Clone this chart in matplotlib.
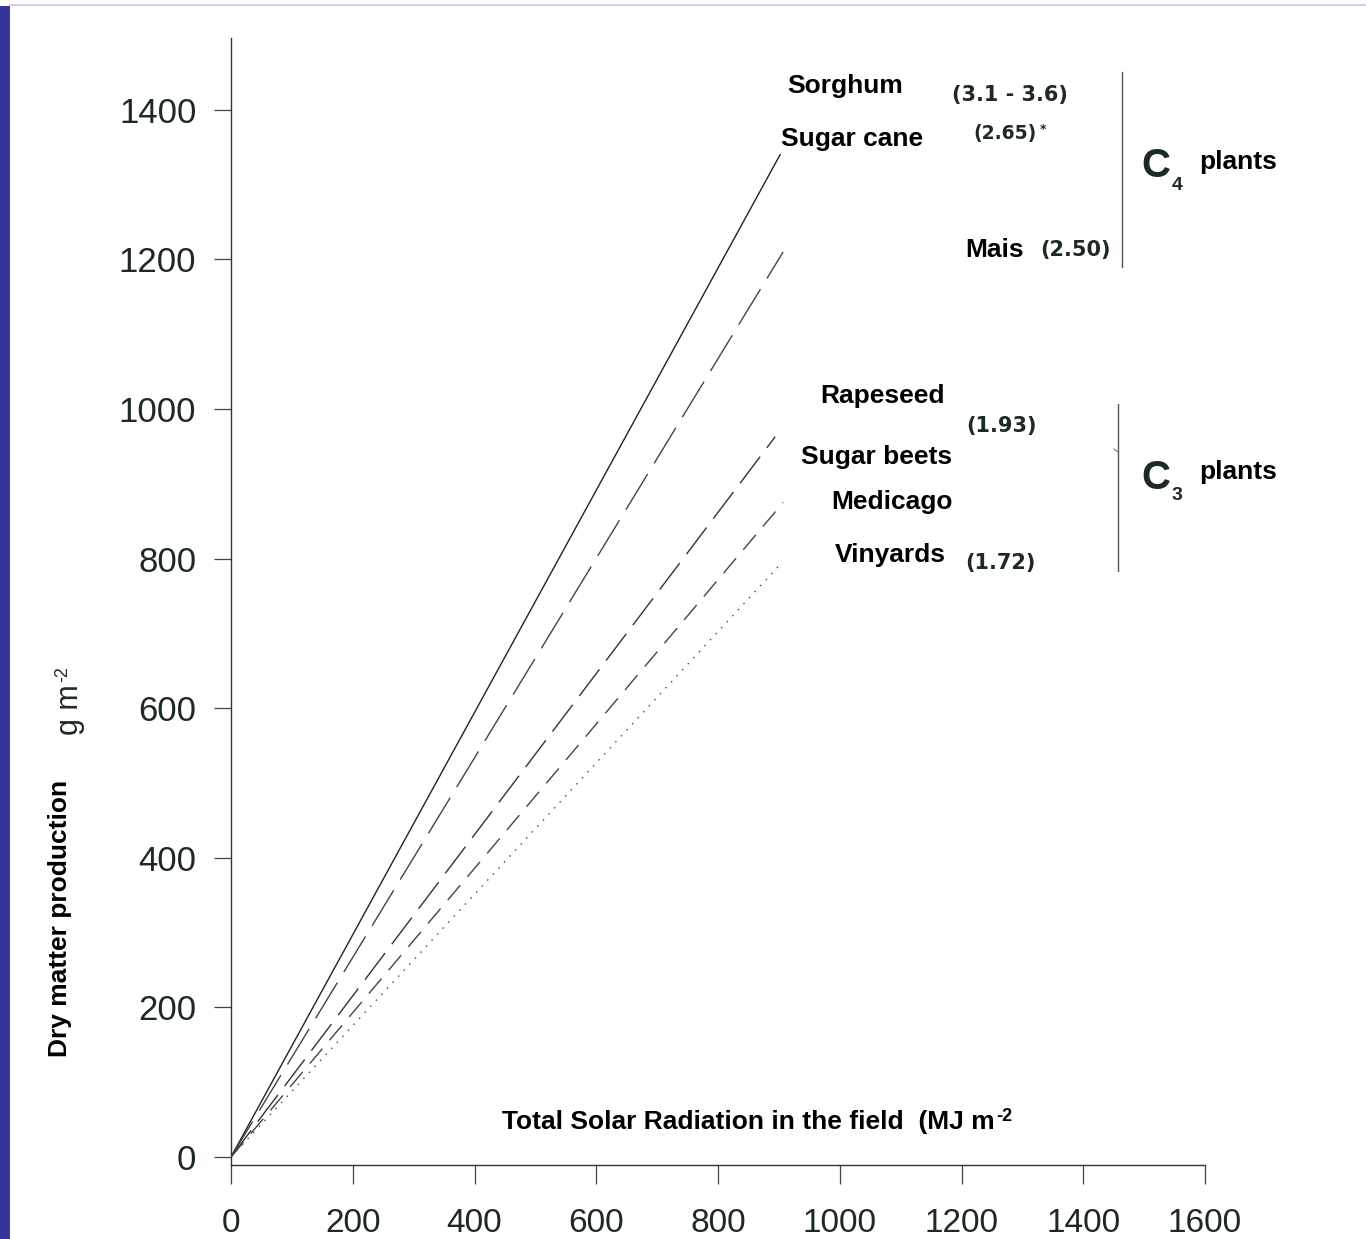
import matplotlib
matplotlib.use('Agg')
import matplotlib.pyplot as plt
from matplotlib.lines import Line2D
from matplotlib.patches import Rectangle

W, H = 1366, 1239

plt.rcParams['font.family'] = ['Liberation Sans', 'DejaVu Sans']
plt.rcParams['lines.scale_dashes'] = False

# line data: every crop line starts at the origin
crops = ['Sorghum', 'Sugar cane', 'Rapeseed', 'Sugar beets', 'Vinyards']
radiation_start = [0, 0, 0, 0, 0]
dry_matter_start = [0, 0, 0, 0, 0]
radiation_end = [902, 907, 894, 907, 902]
dry_matter_end = [1340, 1210, 963, 875, 792]

x_ticks = [0, 200, 400, 600, 800, 1000, 1200, 1400, 1600]
y_ticks = [0, 200, 400, 600, 800, 1000, 1200, 1400]

styles = ['-', (0, (30, 9)), (0, (24, 8)), (0, (14, 8)), (0, (1.1, 4.8))]
colors = ['#222222', '#444444', '#333333', '#444444', '#555555']


def fx(px):
    return px / W


def fy(py):
    return 1 - py / H


fig = plt.figure(figsize=(W / 100, H / 100), dpi=100)

# scanned-slide decorations
fig.add_artist(Rectangle((0, 0), fx(10), fy(6), transform=fig.transFigure,
                         color='#36359a', lw=0))
fig.add_artist(Line2D([fx(10), 1], [fy(5), fy(5)], transform=fig.transFigure,
                      color='#c8c4ea', lw=1.2))

ax = fig.add_axes([fx(231), fy(1165), 974 / W, (1165 - 38) / H])
ax.set_xlim(0, 1600)
ax.set_ylim(-10.7, 1496)
ax.spines['top'].set_visible(False)
ax.spines['right'].set_visible(False)
for s in ['left', 'bottom']:
    ax.spines[s].set_color('#333333')
    ax.spines[s].set_linewidth(1.0)

for i, c in enumerate(crops):
    ax.plot([radiation_start[i], radiation_end[i]],
            [dry_matter_start[i], dry_matter_end[i]],
            ls=styles[i], color=colors[i], lw=1.0, label=c)

ax.set_xticks(x_ticks)
ax.set_yticks(y_ticks)
ax.tick_params(axis='y', direction='out', length=12, width=0.9, pad=13,
               labelsize=25, labelcolor='#1c2a22', color='#444444')
ax.tick_params(axis='x', direction='out', length=14, width=0.9, pad=17,
               labelsize=24, labelcolor='#1c2a22', color='#444444')

# axis titles
xl = fig.text(fx(502), fy(1122), 'Total Solar Radiation in the field  (MJ m',
              fontsize=19, fontweight='bold', ha='left', va='center')
yl = fig.text(fx(60), fy(918), 'Dry matter production', fontsize=19, fontweight='bold',
              rotation=90, ha='center', va='center')
gl = fig.text(fx(70), fy(735), 'g m', fontsize=22, rotation=90,
              ha='center', va='bottom', color='#1c2a22')

fig.canvas.draw()
r = fig.canvas.get_renderer()
bb = xl.get_window_extent(r)
fig.text((bb.x1 + 2) / W, (bb.y1 + 2) / H, '-2', fontsize=13, fontweight='bold',
         ha='left', va='top')
bb = gl.get_window_extent(r)
fig.text((bb.x0 - 1) / W, (bb.y1 + 2) / H, '-2', fontsize=13, rotation=90,
         ha='left', va='bottom', color='#1c2a22')

# crop labels
lab = dict(fontsize=19, fontweight='bold', ha='center', va='center')
fig.text(fx(845), fy(86), 'Sorghum', **lab)
fig.text(fx(852), fy(139), 'Sugar cane', **lab)
fig.text(fx(995), fy(250), 'Mais', **lab)
fig.text(fx(883), fy(396), 'Rapeseed', **lab)
fig.text(fx(877), fy(457), 'Sugar beets', **lab)
fig.text(fx(892), fy(502), 'Medicago', **lab)
fig.text(fx(890), fy(555), 'Vinyards', **lab)

num = dict(fontsize=15, fontweight='bold', ha='center', va='center',
           color='#1c2a22', family='DejaVu Sans')
fig.text(fx(1010), fy(95), '(3.1 - 3.6)', **num)
fig.text(fx(1005), fy(133), '(2.65)', **dict(num, fontsize=13.5))
fig.text(fx(1043), fy(129), '*', **dict(num, fontsize=9))
fig.text(fx(1075), fy(250), '(2.50)', **num)
fig.text(fx(1001), fy(426), '(1.93)', **num)
fig.text(fx(1000), fy(563), '(1.72)', **num)

# group brackets
fig.add_artist(Line2D([fx(1122), fx(1122)], [fy(72), fy(267)],
                      transform=fig.transFigure, color='#555555', lw=1.0))
fig.add_artist(Line2D([fx(1118), fx(1118)], [fy(404), fy(571)],
                      transform=fig.transFigure, color='#555555', lw=1.0))
fig.add_artist(Line2D([fx(1114), fx(1118)], [fy(449), fy(452)],
                      transform=fig.transFigure, color='#777777', lw=0.8))

grp = dict(fontweight='bold', ha='left', va='center')
fig.text(fx(1141), fy(166), 'C', fontsize=29, color='#1c2a22', **grp)
fig.text(fx(1172), fy(185), '4', fontsize=14, color='#1c2a22', **grp)
fig.text(fx(1199), fy(162), 'plants', fontsize=19, **grp)
fig.text(fx(1141), fy(478), 'C', fontsize=29, color='#1c2a22', **grp)
fig.text(fx(1172), fy(496), '3', fontsize=14, color='#1c2a22', **grp)
fig.text(fx(1199), fy(472), 'plants', fontsize=19, **grp)

fig.savefig('out.png', dpi=100)
